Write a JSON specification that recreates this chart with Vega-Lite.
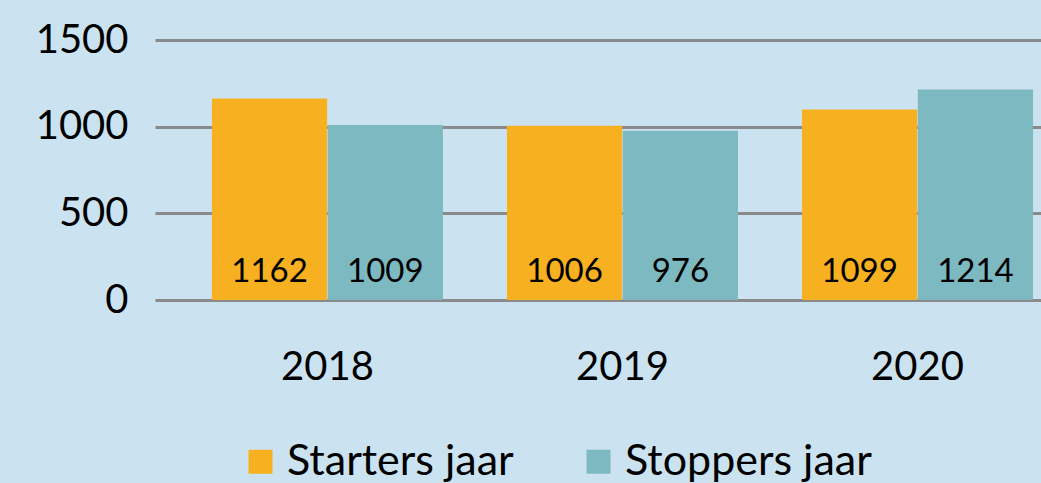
{
  "$schema": "https://vega.github.io/schema/vega-lite/v6.json",
  "autosize": "none",
  "width": 886,
  "height": 260,
  "padding": {"left": 155, "top": 40, "right": 0, "bottom": 183},
  "background": "#cbe3f0",
  "config": {
    "view": {"stroke": null},
    "font": "Lato",
    "axis": {"labelFont": "Lato", "labelColor": "#000000"},
    "legend": {"labelFont": "Lato"}
  },
  "data": {
    "values": [
      {"jaar": "2018", "reeks": "Starters jaar", "aantal": 1162},
      {"jaar": "2018", "reeks": "Stoppers jaar", "aantal": 1009},
      {"jaar": "2019", "reeks": "Starters jaar", "aantal": 1006},
      {"jaar": "2019", "reeks": "Stoppers jaar", "aantal": 976},
      {"jaar": "2020", "reeks": "Starters jaar", "aantal": 1099},
      {"jaar": "2020", "reeks": "Stoppers jaar", "aantal": 1214}
    ]
  },
  "encoding": {
    "x": {
      "field": "jaar",
      "type": "nominal",
      "scale": {"paddingInner": 0.217, "paddingOuter": 0.11, "align": 0.877},
      "axis": {
        "title": null,
        "domain": false,
        "ticks": false,
        "labelAngle": 0,
        "labelFontSize": 40,
        "labelPadding": 47
      }
    },
    "xOffset": {
      "field": "reeks",
      "type": "nominal",
      "sort": ["Starters jaar", "Stoppers jaar"],
      "scale": {"paddingInner": 0.005}
    }
  },
  "layer": [
    {
      "mark": {"type": "bar"},
      "encoding": {
        "y": {
          "field": "aantal",
          "type": "quantitative",
          "scale": {"domain": [0, 1500], "nice": false},
          "axis": {
            "title": null,
            "values": [0, 500, 1000, 1500],
            "format": "d",
            "domain": false,
            "ticks": false,
            "grid": true,
            "gridColor": "#8a8a8a",
            "gridWidth": 3,
            "labelFontSize": 40,
            "labelPadding": 27
          }
        },
        "color": {
          "field": "reeks",
          "type": "nominal",
          "sort": ["Starters jaar", "Stoppers jaar"],
          "scale": {"domain": ["Starters jaar", "Stoppers jaar"], "range": ["#f7b120", "#7db9c0"]},
          "legend": {
            "title": null,
            "orient": "none",
            "direction": "horizontal",
            "legendX": 84,
            "legendY": 400,
            "symbolType": "square",
            "symbolSize": 576,
            "symbolStrokeWidth": 0,
            "symbolOpacity": 1,
            "labelFontSize": 43,
            "labelColor": "#000000",
            "labelLimit": 0,
            "labelOffset": 5,
            "columnPadding": 63
          }
        }
      }
    },
    {
      "mark": {"type": "text", "fontSize": 33, "color": "#000000", "baseline": "alphabetic", "dy": -18},
      "encoding": {
        "y": {"datum": 0, "type": "quantitative"},
        "text": {"field": "aantal", "type": "quantitative", "format": "d"}
      }
    }
  ]
}
